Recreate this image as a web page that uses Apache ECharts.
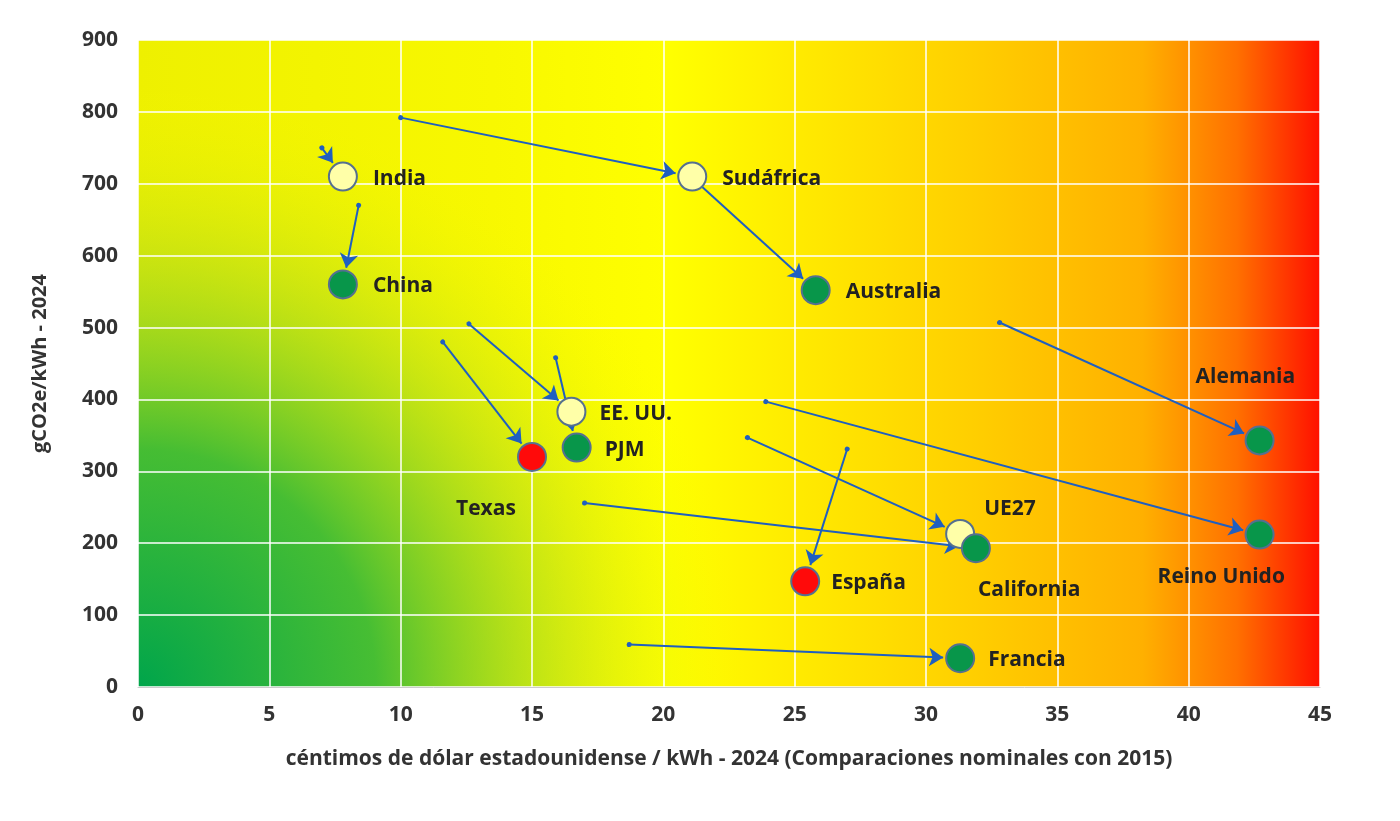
<!DOCTYPE html>
<html><head><meta charset="utf-8">
<script src="https://cdn.jsdelivr.net/npm/echarts@6/dist/echarts.min.js"></script>
<style>html,body{margin:0;background:#fff}#c{width:1400px;height:821px}</style></head>
<body><div id="c"></div>
<script>
const names = ['India','China','Sudáfrica','Australia','EE. UU.','PJM','Texas','Alemania','Reino Unido','UE27','California','España','Francia'];
const x2024 = [7.8,7.8,21.1,25.8,16.5,16.7,15.0,42.7,42.7,31.3,31.9,25.4,31.3];
const y2024 = [710,560,710,552,383,333,320,343,212,213,193,147,40];
const x2015 = [7.0,8.4,10.0,21.2,12.6,15.9,11.6,32.8,23.9,23.2,17.0,27.0,18.7];
const y2015 = [750,670,792,705,505,458,480,507,397,347,256,331,59];
const kind = ['y','g','y','g','y','g','r','g','g','y','g','r','g'];
const labelPos = [[10,2],[10,2],[10,2],[10,2],[8,2],[8,2],[-96,52],[-84,-63],[-122,42],[4,-25],[-18,42],[6,2],[8,2]];
const fills = {y:'#ffffa8', g:'#08964a', r:'#ff0a0a'};
const font = '"Open Sans", "DejaVu Sans", sans-serif';

const chart = echarts.init(document.getElementById('c'));
const G = {left:138, right:80, top:40, bottom:134};
const W = 1400 - G.left - G.right, H = 821 - G.top - G.bottom;
chart.setOption({
  graphic: [
    {type:'rect', z:-10, shape:{x:G.left,y:G.top,width:W,height:H}, style:{fill:new echarts.graphic.LinearGradient(0,0,1,0,[
      {offset:0,color:'#eef000'},{offset:0.3,color:'#f8f800'},{offset:0.45,color:'#ffff00'},{offset:0.7,color:'#ffd000'},{offset:0.85,color:'#ffb000'},{offset:0.93,color:'#ff7000'},{offset:1,color:'#ff1000'}])}},
    {type:'rect', z:-9, shape:{x:G.left,y:G.top,width:W,height:H}, style:{fill:new echarts.graphic.RadialGradient(0,1,1.05,[
      {offset:0,color:'rgba(0,165,75,1)'},{offset:0.35,color:'rgba(40,180,60,0.85)'},{offset:0.65,color:'rgba(150,210,40,0.35)'},{offset:0.9,color:'rgba(255,255,0,0)'}])}}
  ],
  grid:{left:G.left,right:G.right,top:G.top,bottom:G.bottom},
  xAxis:{type:'value',min:0,max:45,interval:5,name:'céntimos de dólar estadounidense / kWh - 2024 (Comparaciones nominales con 2015)',
    nameLocation:'middle',nameGap:62,nameTextStyle:{fontSize:21,fontWeight:'bold',color:'#333',fontFamily:font},
    axisLine:{lineStyle:{color:'#ccc'}},axisTick:{show:false},
    axisLabel:{fontSize:21,fontWeight:'bold',color:'#333',margin:18,fontFamily:font},
    splitLine:{lineStyle:{color:'#fff',width:1.5}}},
  yAxis:{type:'value',min:0,max:900,interval:100,name:'gCO2e/kWh - 2024',nameLocation:'middle',nameGap:88,
    nameTextStyle:{fontSize:20,fontWeight:'bold',color:'#333',fontFamily:font},
    axisLine:{show:false},axisTick:{show:false},
    axisLabel:{fontSize:21,fontWeight:'bold',color:'#333',margin:20,fontFamily:font},
    splitLine:{lineStyle:{color:'#fff',width:1.5}}},
  series:[]
});
function px(x,y){return chart.convertToPixel({gridIndex:0},[x,y]);}
const lineData = names.map((n,i)=>{
  const a = px(x2015[i],y2015[i]), b = px(x2024[i],y2024[i]);
  const dx=b[0]-a[0], dy=b[1]-a[1], L=Math.hypot(dx,dy);
  const e=[b[0]-dx/L*17, b[1]-dy/L*17];
  return {coords:[[x2015[i],y2015[i]], chart.convertFromPixel({gridIndex:0},e)]};
});
chart.setOption({series:[
  {type:'lines',coordinateSystem:'cartesian2d',symbol:['circle','arrow'],symbolSize:[5,14],
   lineStyle:{color:'#1f5fc0',width:2,opacity:1},data:lineData,z:2},
  {type:'scatter',symbolSize:28,z:3,
   data:names.map((n,i)=>({value:[x2024[i],y2024[i]],name:n,
     itemStyle:{color:fills[kind[i]],borderColor:'#557090',borderWidth:2,opacity:1},
     label:{show:true,formatter:n,position:'right',offset:labelPos[i],
       fontSize:21,fontWeight:'bold',color:'#222',fontFamily:font}})),
   label:{show:true}}
]});
</script></body></html>
